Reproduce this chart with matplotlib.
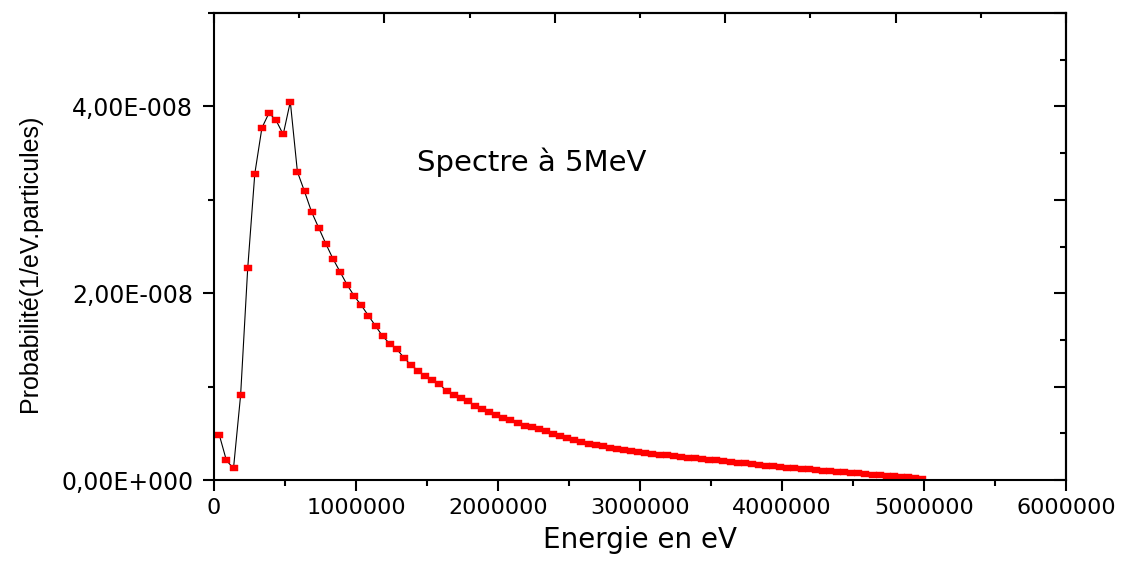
import numpy as np
import matplotlib
matplotlib.use('Agg')
from matplotlib import pyplot as plt
from matplotlib.ticker import MultipleLocator, FixedLocator

# energie des canaux (eV), pas de 50 keV
energie = np.arange(37500, 5000000, 50000)

# probabilite, en 1e-9 / (eV.particule)
prob_debut = [4.83, 2.10, 1.25, 9.07, 22.65, 32.8, 37.7, 39.3, 38.5, 37.0,
              40.5, 33.0, 30.9, 28.7, 27.0, 25.3]
prob_milieu = [23.7, 22.3, 20.9, 19.7, 18.7, 17.6, 16.5, 15.4, 14.6, 14.0,
               13.1, 12.3, 11.7, 11.1, 10.67, 10.3, 9.5, 9.1, 8.75, 8.43,
               7.93, 7.57, 7.33, 6.93, 6.65, 6.4, 6.08, 5.83, 5.65, 5.45]
prob_queue = [5.2, 4.95, 4.7, 4.47, 4.25, 4.07, 3.9, 3.74, 3.59, 3.45,
              3.33, 3.21, 3.1, 2.98, 2.88, 2.80, 2.72, 2.64, 2.56, 2.48,
              2.40, 2.33, 2.25, 2.17, 2.09, 2.01, 1.93, 1.85, 1.77, 1.69,
              1.61, 1.53, 1.45, 1.37, 1.31, 1.25, 1.19, 1.13, 1.07, 1.01,
              0.95, 0.89, 0.83, 0.77, 0.71, 0.65, 0.59, 0.53, 0.47, 0.41,
              0.35, 0.29, 0.22, 0.16]
prob = np.array(prob_debut + prob_milieu + prob_queue) * 1e-9

xticks = [0, 1000000, 2000000, 3000000, 4000000, 5000000, 6000000]
xtick_labels = ['0', '1000000', '2000000', '3000000', '4000000', '5000000', '6000000']
yticks = [0, 2e-8, 4e-8]
ytick_labels = ['0,00E+000', '2,00E-008', '4,00E-008']

fig = plt.figure(figsize=(11.25, 5.63), dpi=100)
ax = fig.add_axes([0.1902, 0.1474, 0.7574, 0.8295])

# marqueur rectangulaire (plus large que haut)
rect = [(-0.7, -0.5), (0.7, -0.5), (0.7, 0.5), (-0.7, 0.5), (-0.7, -0.5)]
ax.plot(energie, prob, c='black', lw=0.8, marker=rect, markersize=5.5,
        markerfacecolor='#ff0000', markeredgecolor='#ff0000', markeredgewidth=0.3)

ax.set_xlim(0, 6000000)
ax.set_ylim(0, 5e-8)
ax.set_xticks(xticks)
ax.set_xticklabels(xtick_labels)
ax.set_yticks(yticks)
ax.set_yticklabels(ytick_labels)
ax.xaxis.set_minor_locator(MultipleLocator(500000))
ax.yaxis.set_minor_locator(MultipleLocator(1e-8))
ax.tick_params(which='major', direction='out', length=8, width=1.5, labelsize=16, pad=5)
ax.tick_params(axis='y', which='major', length=8, pad=7, labelsize=17)
ax.tick_params(which='minor', direction='out', length=4, width=1.5)

for s in ax.spines.values():
    s.set_linewidth(1.5)

# axes du haut et de droite : graduations internes, sans etiquettes
top = ax.secondary_xaxis('top')
top.xaxis.set_major_locator(FixedLocator([0, 1200000, 2400000, 3600000, 4800000, 6000000]))
top.xaxis.set_minor_locator(MultipleLocator(600000))
top.tick_params(which='major', direction='in', length=7, width=1.5, labeltop=False)
top.tick_params(which='minor', direction='in', length=3.5, width=1.5)
top.spines['top'].set_linewidth(1.5)

right = ax.secondary_yaxis('right')
right.yaxis.set_major_locator(MultipleLocator(1e-8))
right.yaxis.set_minor_locator(MultipleLocator(0.5e-8))
right.tick_params(which='major', direction='in', length=9, width=1.5, labelright=False)
right.tick_params(which='minor', direction='in', length=4.5, width=1.5)
right.spines['right'].set_linewidth(1.5)

ax.set_xlabel('Energie en eV', fontsize=20, labelpad=6)
ax.set_ylabel('Probabilité(1/eV.particules)', fontsize=18, family='Liberation Sans')
ax.yaxis.set_label_coords(-0.202, 0.465)
ax.text(1430000, 3.31e-8, 'Spectre à 5MeV', fontsize=21, ha='left', va='baseline')

fig.savefig('out.png', dpi=100)
